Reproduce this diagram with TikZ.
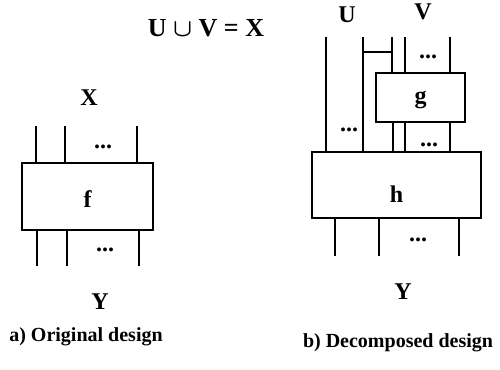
\documentclass[tikz,border=0pt]{standalone}
\usepackage{fontspec}
\usepackage{amsmath}
\setmainfont{Liberation Serif}
\begin{document}
\begin{tikzpicture}[x=1pt,y=-1pt,
  box/.style={draw, line width=1.6pt, inner sep=0pt},
  lbl/.style={font=\fontsize{24}{26}\selectfont\bfseries, inner sep=0pt},
  dts/.style={font=\fontsize{24}{24}\selectfont\bfseries, inner sep=0pt},
  wire/.style={line width=1.5pt},
  captxt/.style={font=\fontsize{20}{22}\selectfont\bfseries, inner sep=0pt}]
\useasboundingbox (0,0) rectangle (500,369);
% ---- a) original design
\node[box, minimum width=131pt, minimum height=67pt] (f) at (87.5,196.5) {};
\node[lbl] (fl) at ([yshift=-3pt]f.center) {f};
\node[lbl] (X) at (89,98) {X};
\node[lbl] (Y) at (100,302) {Y};
\coordinate (fi1) at (36,126);
\coordinate (fi2) at (65,126);
\coordinate (fi3) at (137,126);
\coordinate (fo1) at (37,266);
\coordinate (fo2) at (67,266);
\coordinate (fo3) at (139,266);
\foreach \c in {fi1,fi2,fi3} \draw[wire] (\c) -- (\c |- f.north);
\foreach \c in {fo1,fo2,fo3} \draw[wire] (f.south -| \c) -- (\c);
\node[dts] (fd1) at (103,147) {...};
\node[dts] (fd2) at (105,250) {...};
\node[captxt] (ca) at (86,337) {a) Original design};
% ---- b) decomposed design
\node[lbl, font=\fontsize{26}{28}\selectfont\bfseries] (eq) at (206,28) {U $\boldsymbol{\cup}$ V = X};
\node[lbl] (U) at (347,15) {U};
\node[lbl] (V) at (423,12) {V};
\node[box, minimum width=89pt, minimum height=49pt] (g) at (420.5,97.5) {};
\node[lbl] (gl) at ([yshift=-2pt]g.center) {g};
\node[box, minimum width=169pt, minimum height=66pt] (h) at (396.5,185) {};
\node[lbl] (hl) at ([yshift=-9pt]h.center) {h};
\coordinate (u1) at (326,37);
\coordinate (u2) at (363,37);
\coordinate (v1) at (392,37);
\coordinate (v2) at (405,37);
\coordinate (v3) at (450,37);
\coordinate (br) at (363,52);
\coordinate (gb1) at (393,122);
\coordinate (gb2) at (405,122);
\coordinate (gb3) at (450,122);
\coordinate (ho1) at (335,256);
\coordinate (ho2) at (379,256);
\coordinate (ho3) at (459,256);
\draw[wire] (u1) -- (u1 |- h.north);
\draw[wire] (u2) -- (u2 |- h.north);
\draw[wire] (br) -- (br -| v1);
\foreach \c in {v1,v2,v3} \draw[wire] (\c) -- (\c |- g.north);
\foreach \c in {gb1,gb2,gb3} \draw[wire] (g.south -| \c) -- (\c |- h.north);
\foreach \c in {ho1,ho2,ho3} \draw[wire] (h.south -| \c) -- (\c);
\node[dts] (vd1) at (428,57) {...};
\node[dts] (ud1) at (349,130) {...};
\node[dts] (gd1) at (429,145) {...};
\node[dts] (hd1) at (418,240) {...};
\node[lbl] (Y2) at (403,292) {Y};
\node[captxt] (cb) at (398,343) {b) Decomposed design};
\end{tikzpicture}
\end{document}
